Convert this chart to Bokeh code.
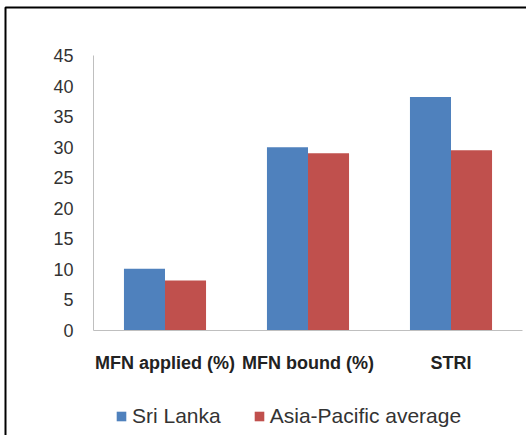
from bokeh.plotting import figure
from bokeh.models import (Range1d, Legend, LegendItem, ColumnDataSource,
                          FixedTicker, BoxAnnotation)
from bokeh.embed import file_html
from bokeh.resources import INLINE

categories = ["MFN applied (%)", "MFN bound (%)", "STRI"]
sri_lanka = [10.1, 30.0, 38.2]
asia_pacific = [8.2, 29.0, 29.5]
series_names = ["Sri Lanka", "Asia-Pacific average"]
series_colors = ["#4F81BD", "#C0504D"]
y_ticks = [0, 5, 10, 15, 20, 25, 30, 35, 40, 45]

W, H = 526, 435
plot_left, plot_right, plot_top, plot_bottom = 93, 522, 55, 330
y_max = 45

n = len(categories)
centers = [i + 0.5 for i in range(n)]
bw = 0.287
source = ColumnDataSource(data=dict(
    x_sl=[c - bw / 2 for c in centers], x_ap=[c + bw / 2 for c in centers],
    sl=sri_lanka, ap=asia_pacific))

px_per_cat = (plot_right - plot_left) / n
px_per_unit = (plot_bottom - plot_top) / y_max
x_range = Range1d(-plot_left / px_per_cat, n + (W - plot_right) / px_per_cat)
y_range = Range1d(-(H - plot_bottom) / px_per_unit, y_max + plot_top / px_per_unit)

p = figure(width=W, height=H, x_range=x_range, y_range=y_range,
           output_backend="svg", toolbar_location=None,
           min_border=0, min_border_left=0, min_border_right=0,
           min_border_top=0, min_border_bottom=0)
p.outline_line_color = None
p.xgrid.grid_line_color = None
p.ygrid.grid_line_color = None

border = BoxAnnotation(left=5, right=3000, top=7, bottom=3000,
                       left_units="canvas", right_units="canvas",
                       top_units="canvas", bottom_units="canvas",
                       fill_alpha=0, line_color="black", line_width=2,
                       line_alpha=1)
p.add_layout(border)

r1 = p.vbar(x="x_sl", top="sl", width=bw, source=source,
            fill_color=series_colors[0], line_color=None)
r2 = p.vbar(x="x_ap", top="ap", width=bw, source=source,
            fill_color=series_colors[1], line_color=None)

p.yaxis.fixed_location = 0
p.yaxis.bounds = (0, y_max)
p.yaxis.ticker = FixedTicker(ticks=y_ticks)
p.yaxis.axis_line_color = "#BFBFBF"
p.yaxis.major_tick_line_color = None
p.yaxis.minor_tick_line_color = None
p.yaxis.major_tick_out = 0
p.yaxis.major_label_standoff = 20
p.yaxis.major_label_text_font = "Liberation Sans"
p.yaxis.major_label_text_font_size = "18px"
p.yaxis.major_label_text_color = "#333333"

p.xaxis.fixed_location = 0
p.xaxis.bounds = (0, n)
p.xaxis.ticker = FixedTicker(ticks=centers)
p.xaxis.major_label_overrides = {c: lab for c, lab in zip(centers, categories)}
p.xaxis.axis_line_color = "#BFBFBF"
p.xaxis.major_tick_line_color = None
p.xaxis.minor_tick_line_color = None
p.xaxis.major_tick_out = 0
p.xaxis.major_label_standoff = 22
p.xaxis.major_label_text_font = "Liberation Sans"
p.xaxis.major_label_text_font_size = "18px"
p.xaxis.major_label_text_font_style = "bold"
p.xaxis.major_label_text_color = "#222222"

legend = Legend(items=[LegendItem(label=series_names[0], renderers=[r1]),
                       LegendItem(label=series_names[1], renderers=[r2])],
                orientation="horizontal", location=(115, 7),
                glyph_width=12, glyph_height=12, label_standoff=5, spacing=32,
                padding=0, margin=0, border_line_color=None,
                background_fill_alpha=0, label_text_font="Liberation Sans",
                label_text_font_size="21px", label_text_color="#333333")
p.add_layout(legend)

open("out.html", "w").write(file_html(p, INLINE))
